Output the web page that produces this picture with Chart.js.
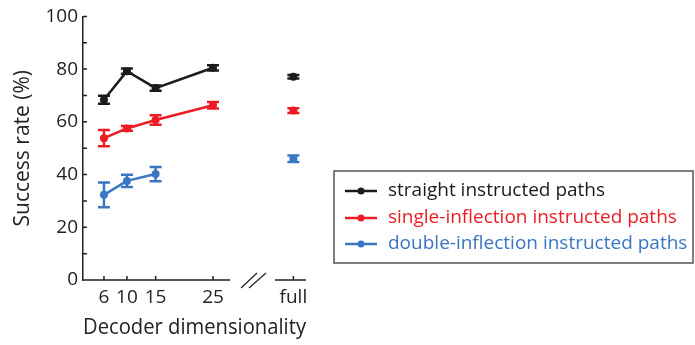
<!DOCTYPE html>
<html>
<head>
<meta charset="utf-8">
<script src="https://cdn.jsdelivr.net/npm/chart.js@4.4.1/dist/chart.umd.min.js"></script>
<style>
  html, body { margin: 0; padding: 0; background: #fff; }
</style>
</head>
<body>
<canvas id="myChart" width="695" height="345"></canvas>
<script>
// decoder dimensions, "full" sits past the axis break
const tickLabels = ['6', '10', '15', '25', 'full']
const xPos = [6, 10, 15, 25, 39]

const straightRate = [68.4, 79.2, 72.8, 80.5, 77.1]
const straightErr = [1.5, 1.0, 1.0, 1.0, 0.7]
const singleRate = [53.8, 57.5, 60.7, 66.3, 64.3]
const singleErr = [3.1, 0.9, 1.8, 1.2, 0.9]
const doubleRate = [32.3, 37.6, 40.2, null, 46.0]
const doubleErr = [4.7, 2.3, 2.7, null, 1.2]

const seriesNames = ['straight instructed paths', 'single-inflection instructed paths', 'double-inflection instructed paths']
const seriesColors = ['#1b1b1b', '#ed1c24', '#3b76c3']
const rates = [straightRate, singleRate, doubleRate]
const errs = [straightErr, singleErr, doubleErr]

const FONT = "'Open Sans', sans-serif"
const AXIS = '#222'
const lastIdx = xPos.length - 1

// error bars with caps
const errorBars = {
  id: 'errorBars',
  beforeDatasetsDraw(chart) {
    const ctx = chart.ctx
    const y = chart.scales.y
    chart.data.datasets.forEach((ds, k) => {
      const meta = chart.getDatasetMeta(k)
      ctx.save()
      ctx.strokeStyle = seriesColors[k]
      ctx.lineWidth = 2.5
      errs[k].forEach((e, i) => {
        if (e == null || rates[k][i] == null) return
        const px = meta.data[i].x
        const top = y.getPixelForValue(rates[k][i] + e)
        const bot = y.getPixelForValue(rates[k][i] - e)
        ctx.beginPath()
        ctx.moveTo(px, top); ctx.lineTo(px, bot)
        ctx.moveTo(px - 6, top); ctx.lineTo(px + 6, top)
        ctx.moveTo(px - 6, bot); ctx.lineTo(px + 6, bot)
        ctx.stroke()
      })
      ctx.restore()
    })
  }
}

// broken x axis, inward ticks on both axes
const axisMarks = {
  id: 'axisMarks',
  afterDraw(chart) {
    const ctx = chart.ctx
    const x = chart.scales.x, y = chart.scales.y
    const base = chart.chartArea.bottom
    const left = chart.chartArea.left
    ctx.save()
    ctx.strokeStyle = AXIS
    ctx.lineWidth = 1.5
    ctx.beginPath()
    ctx.moveTo(left, base); ctx.lineTo(x.getPixelForValue(28), base)
    ctx.moveTo(x.getPixelForValue(35.8), base); ctx.lineTo(chart.chartArea.right, base)
    xPos.forEach(v => {
      const px = x.getPixelForValue(v)
      ctx.moveTo(px, base); ctx.lineTo(px, base - 4)
    })
    for (let v = 10; v <= 100; v += 10) {
      const py = y.getPixelForValue(v)
      ctx.moveTo(left, py); ctx.lineTo(left + 4, py)
    }
    ctx.stroke()
    // "//" break marks
    ctx.lineWidth = 1.2
    ctx.beginPath()
    ctx.moveTo(241, base + 8); ctx.lineTo(257, base - 7)
    ctx.moveTo(249, base + 8); ctx.lineTo(266, base - 7)
    ctx.stroke()
    ctx.restore()
  }
}

const legendBox = {
  id: 'legendBox',
  afterDraw(chart) {
    const ctx = chart.ctx
    ctx.save()
    ctx.strokeStyle = '#555'
    ctx.lineWidth = 1.5
    ctx.strokeRect(334, 171, 359, 92)
    ctx.font = '19px ' + FONT
    ctx.textBaseline = 'middle'
    const rows = [191, 218, 244]
    seriesNames.forEach((name, k) => {
      const ry = rows[k]
      ctx.strokeStyle = seriesColors[k]
      ctx.fillStyle = seriesColors[k]
      ctx.lineWidth = 2.5
      ctx.beginPath()
      ctx.moveTo(345, ry); ctx.lineTo(377, ry)
      ctx.stroke()
      ctx.beginPath()
      ctx.arc(361, ry, 3.5, 0, Math.PI * 2)
      ctx.fill()
      ctx.fillText(name, 388, ry)
    })
    ctx.restore()
  }
}

new Chart(document.getElementById('myChart'), {
  type: 'line',
  data: {
    datasets: seriesNames.map((name, k) => ({
      label: name,
      data: xPos.map((v, i) => ({ x: v, y: rates[k][i] })),
      borderColor: seriesColors[k],
      backgroundColor: seriesColors[k],
      borderWidth: 2.5,
      pointRadius: 4,
      pointBorderWidth: 0,
      spanGaps: false,
      segment: {
        borderColor: c => c.p1DataIndex === lastIdx ? 'rgba(0,0,0,0)' : seriesColors[k]
      }
    }))
  },
  options: {
    responsive: false,
    animation: false,
    layout: { padding: { left: 0, top: 12, right: 389, bottom: 0 } },
    plugins: {
      legend: { display: false },
      tooltip: { enabled: false }
    },
    scales: {
      x: {
        type: 'linear',
        min: 2.35,
        max: 41.2,
        afterBuildTicks: scale => { scale.ticks = xPos.map(v => ({ value: v })) },
        afterFit: scale => { scale.height = 65 },
        grid: { display: false, drawTicks: false },
        border: { display: false },
        ticks: {
          autoSkip: false,
          maxRotation: 0,
          padding: 6,
          color: AXIS,
          font: { family: FONT, size: 19 },
          callback: v => tickLabels[xPos.indexOf(v)]
        },
        title: {
          display: true,
          text: 'Decoder dimensionality',
          color: AXIS,
          font: { family: FONT, size: 21.5 },
          padding: { top: 0, bottom: 4 }
        }
      },
      y: {
        min: 0,
        max: 100,
        afterFit: scale => { scale.width = 83 },
        grid: { drawOnChartArea: false, drawTicks: false },
        border: { display: true, color: AXIS, width: 1.5 },
        ticks: {
          stepSize: 20,
          padding: 5,
          color: AXIS,
          font: { family: FONT, size: 19 }
        },
        title: {
          display: true,
          text: 'Success rate (%)',
          color: AXIS,
          font: { family: FONT, size: 21 },
          padding: { top: 10, bottom: 0 }
        }
      }
    }
  },
  plugins: [errorBars, axisMarks, legendBox]
})
</script>
</body>
</html>
